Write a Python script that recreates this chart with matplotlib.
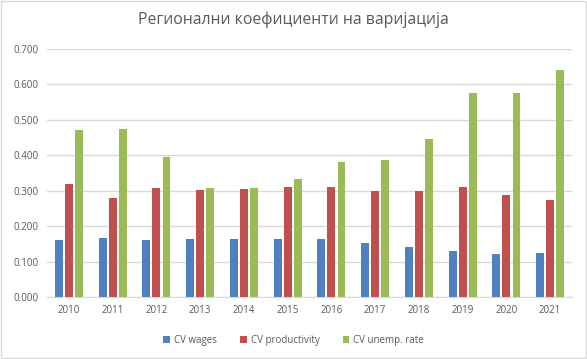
import numpy as np
import matplotlib.pyplot as plt
from matplotlib.ticker import FormatStrFormatter

plt.rcParams['font.family'] = ['Open Sans', 'DejaVu Sans']

years = ['2010', '2011', '2012', '2013', '2014', '2015',
         '2016', '2017', '2018', '2019', '2020', '2021']
cv_wages = [0.161, 0.167, 0.161, 0.164, 0.164, 0.164,
            0.164, 0.153, 0.141, 0.130, 0.122, 0.124]
cv_productivity = [0.320, 0.280, 0.308, 0.303, 0.305, 0.311,
                   0.311, 0.300, 0.300, 0.311, 0.288, 0.274]
cv_unemp = [0.472, 0.475, 0.396, 0.308, 0.308, 0.334,
            0.382, 0.387, 0.447, 0.577, 0.577, 0.642]

fig = plt.figure(figsize=(5.87, 3.59), dpi=100)
ax = fig.add_axes([47 / 587, 1 - 297 / 359, 525 / 587, 248 / 359])

x = np.arange(len(years))
w = 0.18
step = 0.23
ax.bar(x - step, cv_wages, w, color='#4f81bd', label='CV wages', zorder=3)
ax.bar(x, cv_productivity, w, color='#c0504d', label='CV productivity', zorder=3)
ax.bar(x + step, cv_unemp, w, color='#9bbb59', label='CV unemp. rate', zorder=3)

ax.set_xlim(-0.5, len(years) - 0.5)
ax.set_ylim(0, 0.7)
ax.set_yticks(np.arange(0, 0.71, 0.1))
ax.yaxis.set_major_formatter(FormatStrFormatter('%.3f'))
ax.set_xticks(x)
ax.set_xticklabels(years)
ax.grid(axis='y', color='#d9d9d9', linewidth=1, zorder=0)
for s in ['top', 'right', 'left']:
    ax.spines[s].set_visible(False)
ax.spines['bottom'].set_color('#d9d9d9')
ax.tick_params(length=0, labelsize=7, colors='#595959', pad=6)

fig.text(0.5, 1 - 20 / 359, 'Регионални коефициенти на варијација',
         ha='center', va='center', fontsize=11.3, color='#595959')

fig.legend(loc='center', bbox_to_anchor=(0.5, 1 - 340 / 359), ncol=3,
           frameon=False, fontsize=7, handlelength=0.7, handleheight=0.7,
           columnspacing=2.4, handletextpad=0.4, labelcolor='#595959')

fig.patches.append(plt.Rectangle((0.001, 0.002), 0.997, 0.996, transform=fig.transFigure,
                                 fill=False, edgecolor='#d9d9d9', linewidth=1))

fig.savefig('out.png', dpi=100)
